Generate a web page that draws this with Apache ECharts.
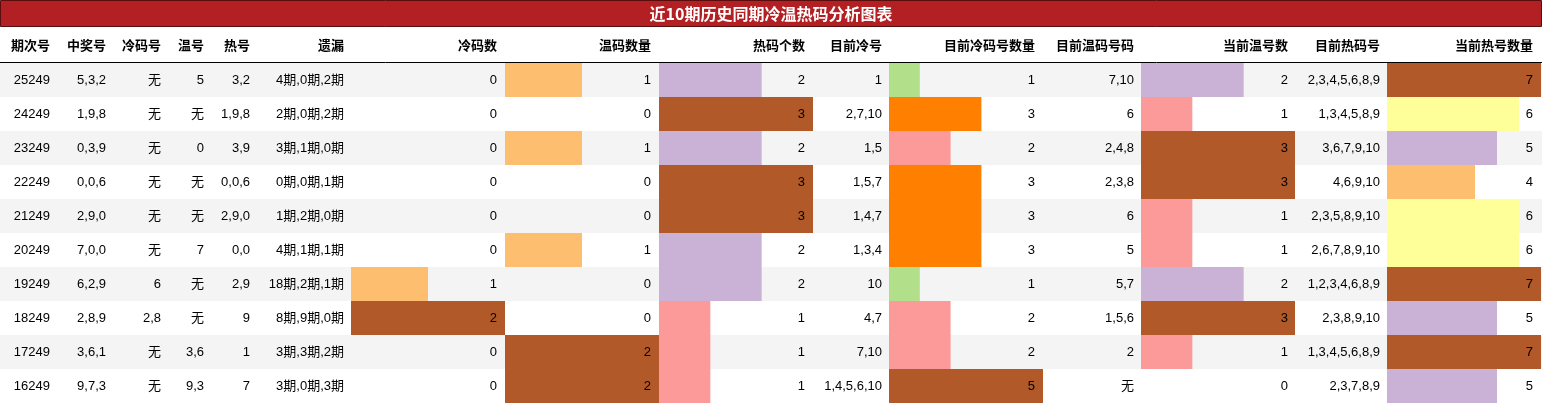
<!DOCTYPE html>
<html><head><meta charset="utf-8">
<script src="https://cdn.jsdelivr.net/npm/echarts@6/dist/echarts.min.js"></script>
<style>html,body{margin:0;padding:0;background:#fff}#main{width:1542px;height:404px}</style>
</head><body><div id="main"></div>
<script>
var periods = ['25249','24249','23249','22249','21249','20249','19249','18249','17249','16249'];
var winNums = ['5,3,2','1,9,8','0,3,9','0,0,6','2,9,0','7,0,0','6,2,9','2,8,9','3,6,1','9,7,3'];
var coldNums = ['无','无','无','无','无','无','6','2,8','无','无'];
var warmNums = ['5','无','0','无','无','7','无','无','3,6','9,3'];
var hotNums = ['3,2','1,9,8','3,9','0,0,6','2,9,0','0,0','2,9','9','1','7'];
var missed = ['4期,0期,2期','2期,0期,2期','3期,1期,0期','0期,0期,1期','1期,2期,0期','4期,1期,1期','18期,2期,1期','8期,9期,0期','3期,3期,2期','3期,0期,3期'];
var coldCnt = [0,0,0,0,0,0,1,2,0,0];
var warmCnt = [1,0,1,0,0,1,0,0,2,2];
var hotCnt = [2,3,2,3,3,2,2,1,1,1];
var curCold = ['1','2,7,10','1,5','1,5,7','1,4,7','1,3,4','10','4,7','7,10','1,4,5,6,10'];
var curColdCnt = [1,3,2,3,3,3,1,2,2,5];
var curWarm = ['7,10','6','2,4,8','2,3,8','6','5','5,7','1,5,6','2','无'];
var curWarmCnt = [2,1,3,3,1,1,2,3,1,0];
var curHot = ['2,3,4,5,6,8,9','1,3,4,5,8,9','3,6,7,9,10','4,6,9,10','2,3,5,8,9,10','2,6,7,8,9,10','1,2,3,4,6,8,9','2,3,8,9,10','1,3,4,5,6,8,9','2,3,7,8,9'];
var curHotCnt = [7,6,5,4,6,6,7,5,7,5];

var headers = ['期次号','中奖号','冷码号','温号','热号','遗漏','冷码数','温码数量','热码个数','目前冷号','目前冷码号数量','目前温码号码','当前温号数','目前热码号','当前热号数量'];
var cols = [periods,winNums,coldNums,warmNums,hotNums,missed,coldCnt,warmCnt,hotCnt,curCold,curColdCnt,curWarm,curWarmCnt,curHot,curHotCnt];
var rightEdge = [50,106,161,204,250,344,497,651,805,882,1035,1134,1288,1380,1533];

// bar columns: [column index, left, max, colours]
var barCols = [
	[6, 351, 2, {1:'#FDBF6F',2:'#B15928'}],
	[7, 505, 2, {1:'#FDBF6F',2:'#B15928'}],
	[8, 659, 3, {1:'#FB9A99',2:'#CAB2D6',3:'#B15928'}],
	[10, 889, 5, {1:'#B2DF8A',2:'#FB9A99',3:'#FF7F00',5:'#B15928'}],
	[12, 1141, 3, {1:'#FB9A99',2:'#CAB2D6',3:'#B15928'}],
	[14, 1387, 7, {4:'#FDBF6F',5:'#CAB2D6',6:'#FFFF99',7:'#B15928'}]
];

var top0 = 63, rowH = 34;
var myChart = echarts.init(document.getElementById('main'));
var graphic = [];
graphic.push({type:'rect', shape:{x:0.5,y:0.5,width:1541,height:26}, style:{fill:'#B22024',stroke:'#5a0d0d',lineWidth:1}, z:0});
graphic.push({type:'text', x:771, y:14, z:100, style:{text:'近10期历史同期冷温热码分析图表', fill:'#fff', font:'bold 16px "Noto Sans CJK SC"', align:'center', verticalAlign:'middle'}});
for (var r = 0; r < periods.length; r++) {
	if (r % 2 == 0) graphic.push({type:'rect', shape:{x:0,y:top0+r*rowH,width:1542,height:rowH}, style:{fill:'#F4F4F4'}, z:0});
}
graphic.push({type:'line', shape:{x1:0,y1:62.5,x2:1542,y2:62.5}, style:{stroke:'#000',lineWidth:1}, z:50});
headers.forEach(function (h, c) {
	graphic.push({type:'text', x:rightEdge[c], y:46, z:100, style:{text:h, fill:'#000', font:'bold 13px "Liberation Sans","Noto Sans CJK SC"', align:'right', verticalAlign:'middle'}});
	cols[c].forEach(function (v, r) {
		graphic.push({type:'text', x:rightEdge[c], y:top0+r*rowH+rowH/2, z:100, style:{text:String(v), fill:'#000', font:'13px "Liberation Sans","Noto Sans CJK SC"', align:'right', verticalAlign:'middle'}});
	});
});

var grids = [], xAxes = [], yAxes = [], series = [];
barCols.forEach(function (b, i) {
	grids.push({left:b[1], top:top0, width:154, height:rowH*periods.length});
	xAxes.push({type:'value', gridIndex:i, min:0, max:b[2], show:false});
	yAxes.push({type:'category', gridIndex:i, data:periods, inverse:true, show:false});
	series.push({
		type:'bar', xAxisIndex:i, yAxisIndex:i, barCategoryGap:'0%', silent:true, animation:false,
		data: cols[b[0]].map(function (v) { return {value:v, itemStyle:{color:b[3][v] || 'transparent'}}; })
	});
});

option = {
	animation: false,
	grid: grids,
	xAxis: xAxes,
	yAxis: yAxes,
	series: series,
	graphic: graphic
};
myChart.setOption(option);
</script>
</body></html>
